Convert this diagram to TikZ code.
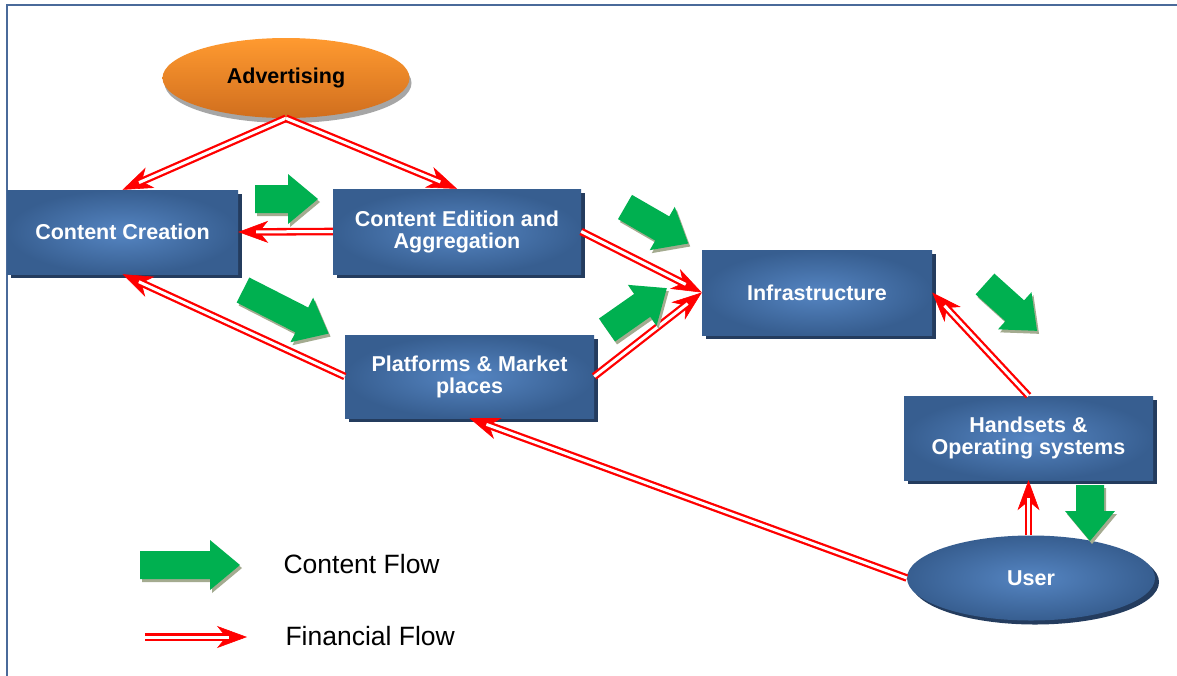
\documentclass[tikz,border=0pt]{standalone}
\usepackage{fontspec}
\setmainfont{Liberation Sans}
\usetikzlibrary{arrows.meta,shapes.geometric,shadows}
\definecolor{boxdark}{HTML}{375E90}
\definecolor{boxlight}{HTML}{5585C2}
\definecolor{navy}{HTML}{243C5E}
\definecolor{cgreen}{HTML}{00B050}
\definecolor{gshadow}{HTML}{A4AB90}
\definecolor{orgtop}{HTML}{FF9A30}
\definecolor{orgbot}{HTML}{D06E1E}
\definecolor{frame}{HTML}{4A6A9A}
\newcommand{\garrpath}[1]{(0,-14)--(#1-30,-14)--(#1-30,-25)--(#1,0)--(#1-30,25)--(#1-30,14)--(0,14)--cycle}
\newcommand{\garr}[4]{%
  \begin{scope}[shift={(#1+2,#2+3)},rotate=#3]\fill[gshadow] \garrpath{#4};\end{scope}
  \begin{scope}[shift={(#1,#2)},rotate=#3]\fill[cgreen] \garrpath{#4};\end{scope}}
\tikzset{
  box/.style={rectangle, shading=radial, inner color=boxlight, outer color=boxdark,
    text=white, font=\bfseries\fontsize{21.5}{22}\selectfont, align=center,
    drop shadow={shadow xshift=4pt, shadow yshift=-4pt, fill=navy, opacity=1}},
  fin/.style={draw=red, line width=0.6pt,
    -{Stealth[length=30pt,width=22pt,inset=9pt]},
    postaction={draw=red, line width=2.3pt, double=white, double distance=3pt, shorten >=18pt, -}},
  legtext/.style={font=\fontsize{26.5}{28}\selectfont, anchor=west}
}
\begin{document}
\begin{tikzpicture}[x=1pt,y=-1pt]
\useasboundingbox (0,0) rectangle (1177,675);
\fill[white] (0,0) rectangle (1177,675);
\draw[frame, line width=1.6pt] (7,680) -- (7,5) -- (1180,5);

% nodes
\node[ellipse, minimum width=247pt, minimum height=80pt, top color=orgtop, bottom color=orgbot,
  font=\bfseries\fontsize{21.5}{22}\selectfont, text=black,
  drop shadow={shadow xshift=2pt, shadow yshift=-5pt, fill=gray!70, opacity=1}] (adv) at (286,78) {Advertising};
\node[box, minimum width=231pt, minimum height=84pt] (cc) at (122.5,232) {Content Creation};
\node[box, minimum width=248pt, minimum height=85pt] (ce) at (457,231.5) {Content Edition and\\Aggregation};
\node[box, minimum width=249pt, minimum height=83pt] (plat) at (469.5,376.5) {Platforms \& Market\\places};
\node[box, minimum width=230pt, minimum height=85pt] (infra) at (817,292.5) {Infrastructure};
\node[box, minimum width=249pt, minimum height=84pt] (hand) at (1028.5,438) {Handsets \&\\Operating systems};
\node[box, ellipse, minimum width=248pt, minimum height=85pt] (user) at (1031,578) {User};

% financial flows
\draw[fin] (adv.south) -- (cc.north);
\draw[fin] (adv.south) -- (ce.north);
\draw[fin] (ce.west) -- (cc.east);
\draw[fin] (plat.west) -- (cc.south);
\draw[fin] (ce.east) -- (infra.west);
\draw[fin] (plat.east) -- (infra.west);
\draw[fin] (hand.north) -- (infra.east);
\draw[fin] (user.north -| hand.south) -- (hand.south);
\draw[fin] (user.west) -- (plat.south);

% content flows
\garr{255}{199}{0}{63}
\garr{625}{207}{-30}{73}
\garr{243}{290}{-27}{96}
\garr{607}{330}{35}{73}
\garr{985}{284}{-42}{70}
\garr{1090}{485}{-90}{56}

% legend
\garr{140}{565}{0}{100}
\node[legtext] (lc) at (280,564) {Content Flow};
\coordinate (lf1) at (145,637);
\coordinate (lf2) at (247,637);
\draw[fin] (lf1) -- (lf2);
\node[legtext] (lfin) at (282,636) {Financial Flow};
\end{tikzpicture}
\end{document}
